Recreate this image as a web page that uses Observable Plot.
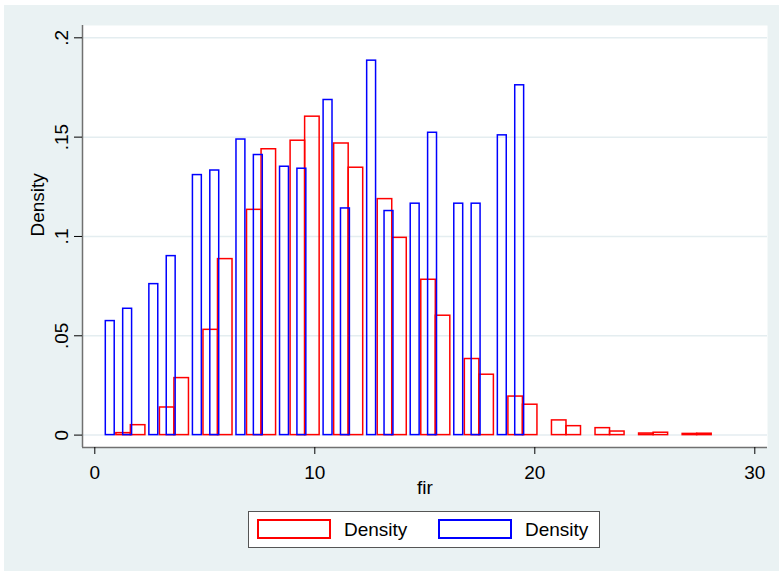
<!DOCTYPE html>
<html><head><meta charset="utf-8">
<script src="https://cdn.jsdelivr.net/npm/d3@7"></script>
<script src="https://cdn.jsdelivr.net/npm/@observablehq/plot@0.6"></script>
<style>
html,body{margin:0;padding:0;background:#fff;}
#outer{position:absolute;left:4px;top:5px;width:775px;height:566px;background:#eaf2f3;font-family:"Liberation Sans",Arial,sans-serif;overflow:hidden;}
#chart svg{display:block;}
#legend{position:absolute;left:244px;top:506px;width:352px;height:37px;box-sizing:border-box;border:1px solid #555;background:#fff;}
.key{position:absolute;top:7px;width:70px;height:16px;}
.lab{position:absolute;top:7px;font-size:19px;line-height:21px;color:#000;}
</style></head>
<body>
<div id="outer">
  <div id="chart"></div>
  <div id="legend">
    <div class="key" style="left:8px;border:2px solid #ff0000"></div>
    <div class="lab" style="left:95px" id="lab1"></div>
    <div class="key" style="left:189px;border:2px solid #0000ff"></div>
    <div class="lab" style="left:276px" id="lab2"></div>
  </div>
</div>
<script>
// Red histogram: bin left edges (fir units) and densities
const redBinStart = [0.98, 1.64, 2.96, 3.62, 4.94, 5.60, 6.92, 7.58, 8.90, 9.56, 10.88, 11.54, 12.86, 13.52, 14.84, 15.50, 16.82, 17.48, 18.80, 19.46, 20.78, 21.44, 22.76, 23.42, 24.74, 25.40, 26.72, 27.38];
const redDensity = [0.001, 0.005, 0.0139, 0.0287, 0.053, 0.0886, 0.1134, 0.1439, 0.1482, 0.1603, 0.1468, 0.1346, 0.1188, 0.0993, 0.0782, 0.0601, 0.0383, 0.0304, 0.0194, 0.0153, 0.0074, 0.0045, 0.0035, 0.0018, 0.0008, 0.0012, 0.0006, 0.0007];
const redBinWidth = 0.66;

// Blue histogram
const blueBinStart = [0.50, 1.29, 2.48, 3.27, 4.46, 5.25, 6.44, 7.23, 8.42, 9.21, 10.40, 11.19, 12.38, 13.17, 14.36, 15.15, 16.34, 17.13, 18.32, 19.11];
const blueDensity = [0.0574, 0.0636, 0.076, 0.0901, 0.1309, 0.1332, 0.1488, 0.141, 0.1351, 0.1341, 0.1687, 0.1141, 0.1885, 0.1128, 0.1165, 0.1522, 0.1165, 0.1165, 0.1509, 0.1761];
const blueBinWidth = 0.405;

const xTicks = [0, 10, 20, 30];
const xTickLabels = ["0", "10", "20", "30"];
const yTicks = [0, 0.05, 0.1, 0.15, 0.2];
const yTickLabels = ["0", ".05", ".1", ".15", ".2"];
const xTitle = "fir";
const yTitle = "Density";
const legendLabels = ["Density", "Density"];

const red = redBinStart.map((s, i) => ({x1: s, x2: s + redBinWidth, y: redDensity[i]}));
const blue = blueBinStart.map((s, i) => ({x1: s, x2: s + blueBinWidth, y: blueDensity[i]}));

const xmin = -0.559, xmax = 30.577, ymin = -0.00624, ymax = 0.2062;

const plot = Plot.plot({
  width: 775, height: 495,
  marginLeft: 78, marginRight: 12, marginTop: 20, marginBottom: 53,
  style: {background: "transparent", fontFamily: "Liberation Sans, Arial, sans-serif", fontSize: "19px", color: "#000"},
  x: {domain: [xmin, xmax]},
  y: {domain: [ymin, ymax]},
  marks: [
    Plot.frame({fill: "white", stroke: "none"}),
    Plot.ruleY(yTicks, {stroke: "#e4edf0", strokeWidth: 1.5}),
    Plot.rectY(red, {x1: "x1", x2: "x2", y1: 0, y2: "y", fill: "none", stroke: "#ff0000", strokeWidth: 1.5}),
    Plot.rectY(blue, {x1: "x1", x2: "x2", y1: 0, y2: "y", fill: "none", stroke: "#0000ff", strokeWidth: 1.5}),
    Plot.ruleX([xmin], {stroke: "#707070", strokeWidth: 1.5}),
    Plot.ruleY([ymin], {stroke: "#707070", strokeWidth: 1.5}),
    Plot.axisX({ticks: xTicks, tickFormat: (d, i) => xTickLabels[i], tickSize: 7, tickPadding: 11, label: null, stroke: "#000"}),
    Plot.axisY({ticks: yTicks, tickFormat: () => "", tickSize: 8, label: null, stroke: "#000"}),
    Plot.text(yTicks, {frameAnchor: "left", y: d => d, text: (d, i) => yTickLabels[i], rotate: -90, textAnchor: "middle", lineAnchor: "bottom", dx: -15, fontSize: 19}),
    Plot.text([yTitle], {frameAnchor: "left", rotate: -90, dx: -45, fontSize: 19}),
    Plot.text([xTitle], {frameAnchor: "bottom", dy: 46, fontSize: 19})
  ]
});
document.getElementById("chart").appendChild(plot);
document.getElementById("lab1").textContent = legendLabels[0];
document.getElementById("lab2").textContent = legendLabels[1];
</script>
</body></html>
